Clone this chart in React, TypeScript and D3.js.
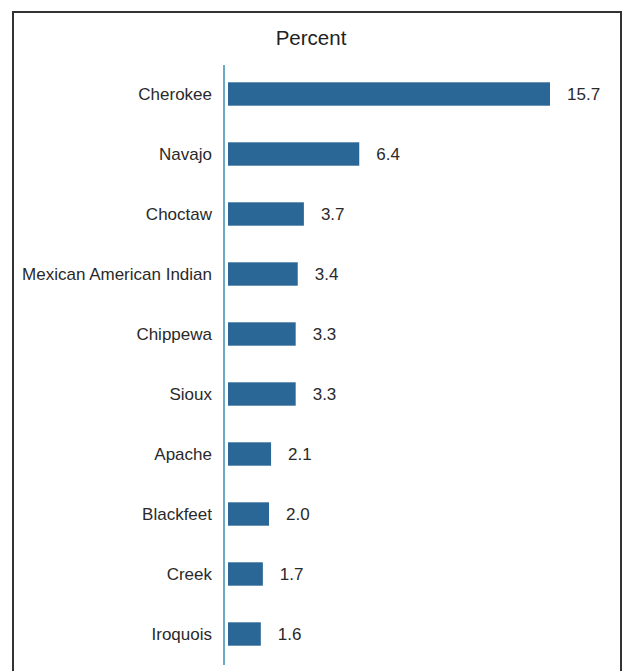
import React from "react";
import * as d3 from "d3";

const categories = [
  "Cherokee",
  "Navajo",
  "Choctaw",
  "Mexican American Indian",
  "Chippewa",
  "Sioux",
  "Apache",
  "Blackfeet",
  "Creek",
  "Iroquois",
];
const values = [15.7, 6.4, 3.7, 3.4, 3.3, 3.3, 2.1, 2.0, 1.7, 1.6];
const title = "Percent";

const W = 624;
const H = 671;

export default function App() {
  const x = d3.scaleLinear().domain([0, 15.7]).range([228, 550]);
  const y = d3
    .scaleBand<string>()
    .domain(categories)
    .range([64, 664])
    .paddingInner(0.61)
    .paddingOuter(0.305);
  const font = "'Liberation Sans', Arial, Helvetica, sans-serif";
  return (
    <svg
      width={W}
      height={H}
      style={{ position: "absolute", left: 0, top: 0, background: "#fff" }}
    >
      <rect x={13} y={12} width={608} height={H + 20} fill="none" stroke="#333" strokeWidth={2} />
      <text x={311} y={45} textAnchor="middle" fontFamily={font} fontSize={20.5} fill="#222">
        {title}
      </text>
      <line x1={224} x2={224} y1={65} y2={665} stroke="#6aaac4" strokeWidth={2} />
      {categories.map((c, i) => {
        const yy = y(c)!;
        const cy = yy + y.bandwidth() / 2;
        return (
          <g key={c}>
            <rect x={x(0)} y={yy} width={x(values[i]) - x(0)} height={y.bandwidth()} fill="#2a6796" />
            <text
              x={212}
              y={cy}
              dy="0.35em"
              textAnchor="end"
              fontFamily={font}
              fontSize={17}
              fill="#2a2a2a"
            >
              {c}
            </text>
            <text
              x={x(values[i]) + 17}
              y={cy}
              dy="0.35em"
              fontFamily={font}
              fontSize={17}
              fill="#2a2a2a"
            >
              {values[i].toFixed(1)}
            </text>
          </g>
        );
      })}
    </svg>
  );
}
